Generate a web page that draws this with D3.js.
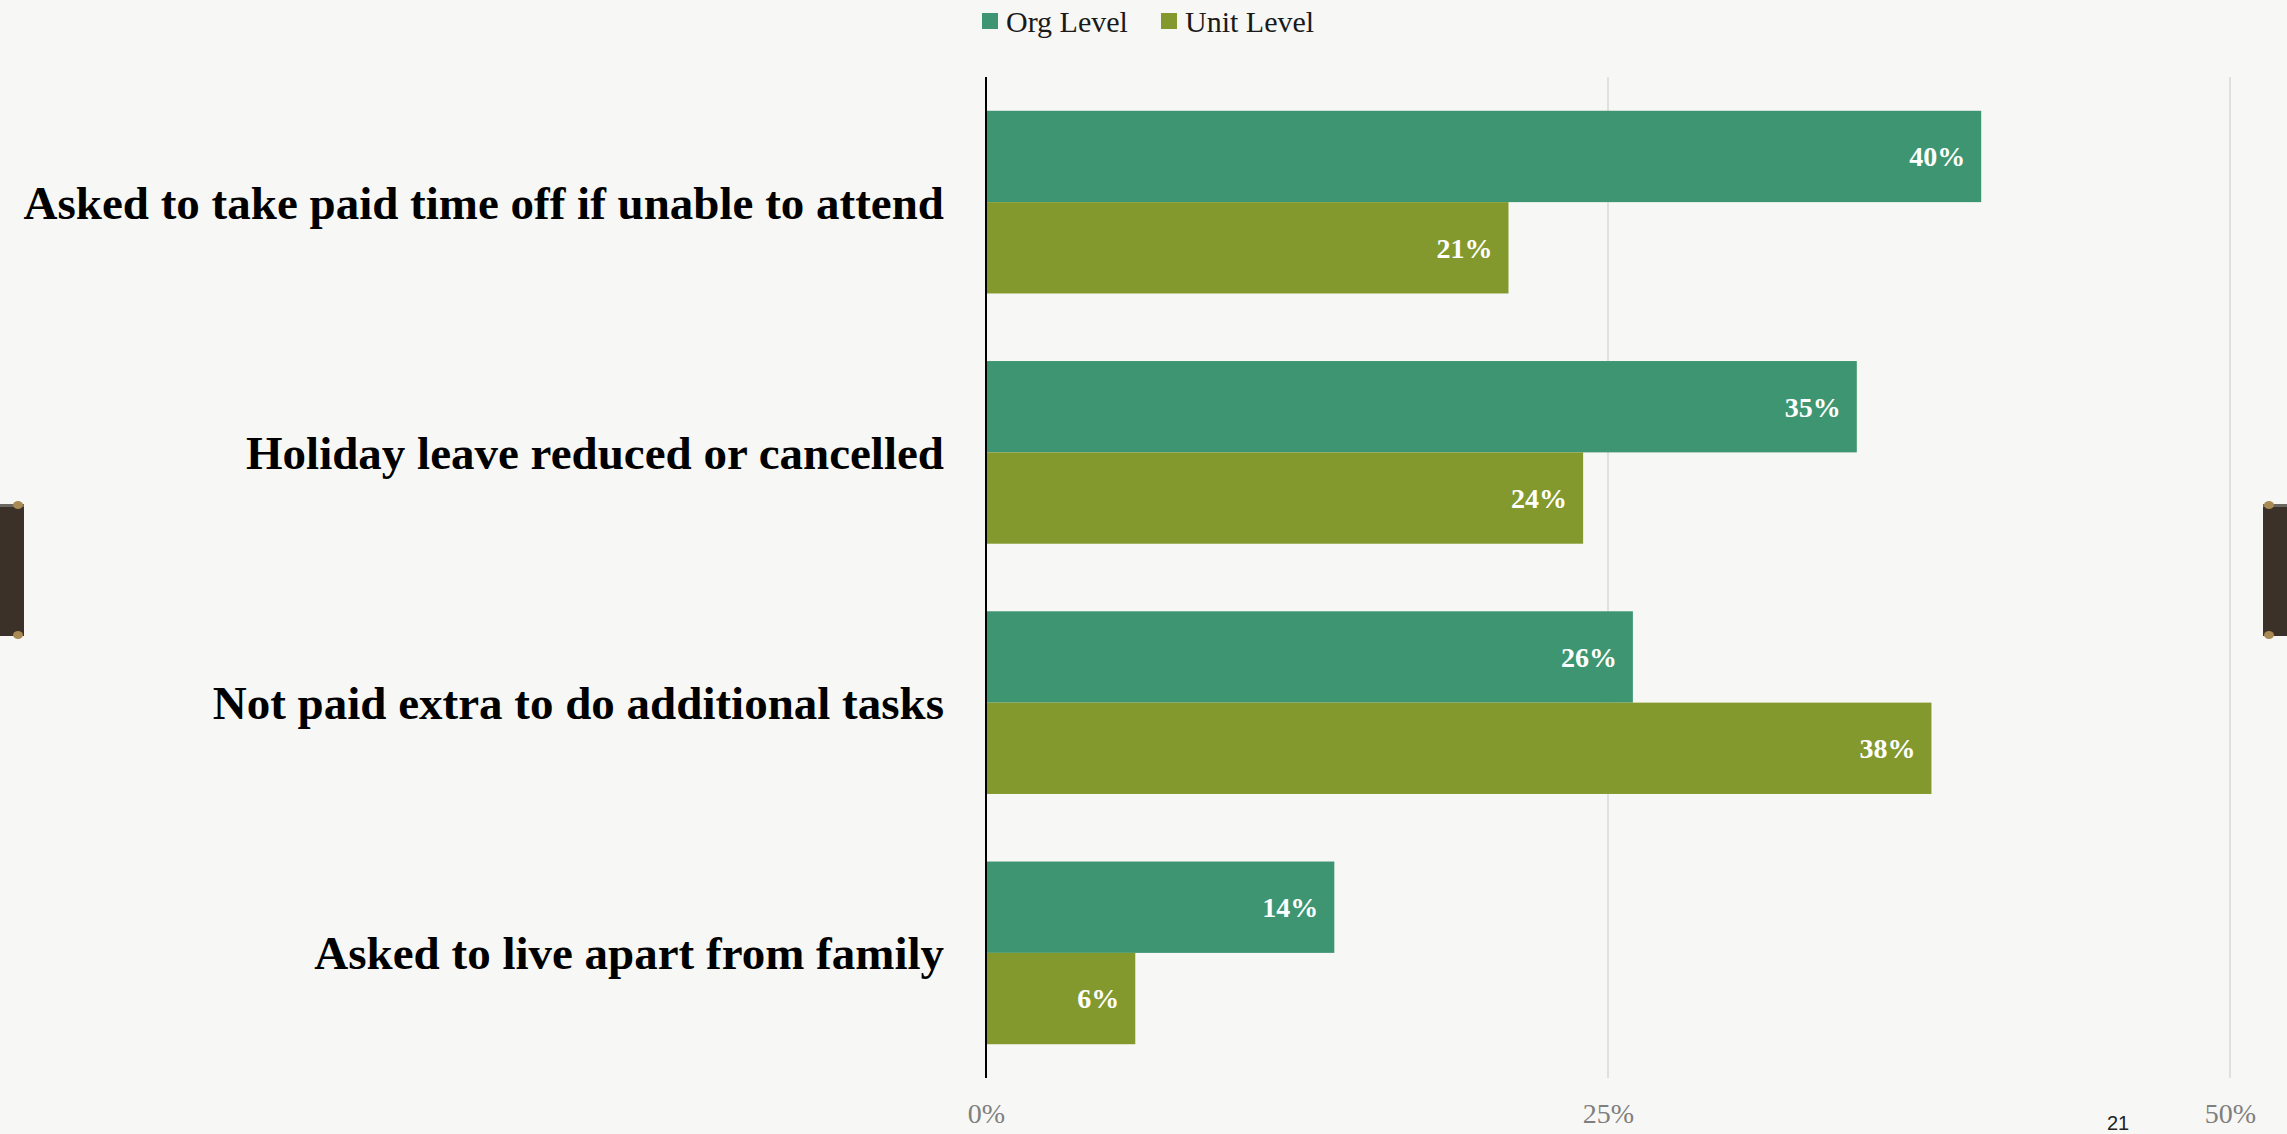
<!DOCTYPE html>
<html>
<head>
<meta charset="utf-8">
<script src="https://cdn.jsdelivr.net/npm/d3@7"></script>
<style>
  html, body { margin: 0; padding: 0; background: #f7f7f5; }
  svg { display: block; }
</style>
</head>
<body>
<svg id="chart" width="2287" height="1134"></svg>
<script>
// Categories, top to bottom
const categories = [
  "Asked to take paid time off if unable to attend",
  "Holiday leave reduced or cancelled",
  "Not paid extra to do additional tasks",
  "Asked to live apart from family"
];
// Percent of respondents per series
const orgLevel  = [40, 35, 26, 14];
const unitLevel = [21, 24, 38, 6];
const seriesNames = ["Org Level", "Unit Level"];
const seriesColors = ["#3d9671", "#84992d"];
const tickValues = [0, 25, 50];
const pageNumber = "21";

const W = 2287, H = 1134;
const svg = d3.select("#chart");
const serif = "'Liberation Serif', 'DejaVu Serif', serif";

// paper background
svg.append("rect").attr("width", W).attr("height", H).attr("fill", "#f7f7f5");

const x = d3.scaleLinear().domain([0, 50]).range([986, 2230]);
const y = d3.scaleBand().domain(categories).range([77, 1078])
  .paddingInner(0.27).paddingOuter(0.135);
const ySeries = d3.scaleBand().domain(seriesNames).range([0, y.bandwidth()]);
const color = d3.scaleOrdinal().domain(seriesNames).range(seriesColors);

const rows = categories.map((c, i) => ({
  category: c,
  values: [
    { series: seriesNames[0], value: orgLevel[i] },
    { series: seriesNames[1], value: unitLevel[i] }
  ]
}));

// vertical gridlines
svg.append("g")
  .selectAll("line")
  .data(tickValues.filter(v => v > 0))
  .join("line")
  .attr("x1", d => x(d)).attr("x2", d => x(d))
  .attr("y1", y.range()[0]).attr("y2", y.range()[1])
  .attr("stroke", "#d9d9d9").attr("stroke-width", 1.5);

// bars
const groups = svg.append("g")
  .selectAll("g")
  .data(rows)
  .join("g")
  .attr("transform", d => `translate(0,${y(d.category)})`);

groups.selectAll("rect")
  .data(d => d.values)
  .join("rect")
  .attr("x", x(0))
  .attr("y", d => ySeries(d.series))
  .attr("width", d => x(d.value) - x(0))
  .attr("height", ySeries.bandwidth())
  .attr("fill", d => color(d.series));

// value labels inside bar ends
groups.selectAll("text")
  .data(d => d.values)
  .join("text")
  .attr("x", d => x(d.value) - 16)
  .attr("y", d => ySeries(d.series) + ySeries.bandwidth() / 2)
  .attr("dy", "0.35em")
  .attr("text-anchor", "end")
  .attr("font-family", serif)
  .attr("font-weight", "bold")
  .attr("font-size", 28)
  .attr("fill", "#ffffff")
  .text(d => d.value + "%");

// category axis line
svg.append("line")
  .attr("x1", x(0)).attr("x2", x(0))
  .attr("y1", y.range()[0]).attr("y2", y.range()[1])
  .attr("stroke", "#000").attr("stroke-width", 2);

// category labels
svg.append("g")
  .selectAll("text")
  .data(categories)
  .join("text")
  .attr("x", 944)
  .attr("y", d => y(d) + y.bandwidth() / 2)
  .attr("dy", "0.35em")
  .attr("text-anchor", "end")
  .attr("font-family", serif)
  .attr("font-weight", "bold")
  .attr("font-size", 47)
  .attr("fill", "#000")
  .text(d => d);

// value axis
const xAxis = svg.append("g")
  .attr("transform", `translate(0,${y.range()[1]})`)
  .call(d3.axisBottom(x).tickValues(tickValues).tickFormat(d => d + "%").tickSize(0).tickPadding(25));
xAxis.select(".domain").remove();
xAxis.selectAll("text")
  .attr("font-family", serif)
  .attr("font-size", 28)
  .attr("fill", "#7f7f7f");

// legend
const legendItems = [
  { name: seriesNames[0], sx: 982, tx: 1006 },
  { name: seriesNames[1], sx: 1161, tx: 1185 }
];
const legend = svg.append("g");
legend.selectAll("rect")
  .data(legendItems)
  .join("rect")
  .attr("x", d => d.sx).attr("y", 13)
  .attr("width", 16).attr("height", 16)
  .attr("fill", d => color(d.name));
legend.selectAll("text")
  .data(legendItems)
  .join("text")
  .attr("x", d => d.tx).attr("y", 21)
  .attr("dy", "0.35em")
  .attr("font-family", serif)
  .attr("font-size", 30)
  .attr("fill", "#1a1a1a")
  .text(d => d.name);

// slide page number
svg.append("text")
  .attr("x", 2107).attr("y", 1130)
  .attr("font-family", "'Liberation Sans', Arial, sans-serif")
  .attr("font-size", 20)
  .attr("fill", "#222")
  .text(pageNumber);

// binder tabs on the slide edges
function tab(x0, capX) {
  const g = svg.append("g");
  g.append("rect").attr("x", x0).attr("y", 504).attr("width", 24).attr("height", 132)
    .attr("fill", "#3b3129");
  g.append("rect").attr("x", x0).attr("y", 504).attr("width", 24).attr("height", 3)
    .attr("fill", "#6a6660");
  g.append("ellipse").attr("cx", capX).attr("cy", 505).attr("rx", 5).attr("ry", 4)
    .attr("fill", "#a88a52");
  g.append("ellipse").attr("cx", capX).attr("cy", 635).attr("rx", 5).attr("ry", 4)
    .attr("fill", "#a88a52");
}
tab(0, 18);
tab(2263, 2269);
</script>
</body>
</html>
